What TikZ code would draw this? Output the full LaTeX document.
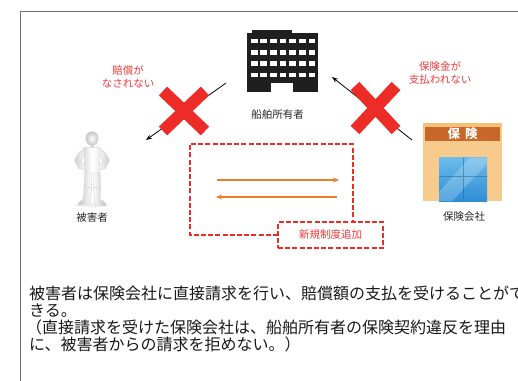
\documentclass[tikz,border=0pt]{standalone}
\usepackage{fontspec}
\setmainfont{Noto Sans CJK JP}
\usetikzlibrary{arrows.meta,shapes.geometric}
\definecolor{framegray}{HTML}{6E6E6E}
\definecolor{crossred}{HTML}{EE2C27}
\definecolor{notered}{HTML}{F03A3A}
\definecolor{flow}{HTML}{ED7D31}
\definecolor{signorange}{HTML}{C9662A}
\definecolor{walltan}{HTML}{F6CB8C}
\definecolor{glassblue}{HTML}{2D8ED6}
\definecolor{glasslight}{HTML}{7CC6F0}
\tikzset{
  xmark/.style={crossred, line width=12pt, line cap=butt},
  linkarrow/.style={black, line width=0.8pt, -{Stealth[length=6pt,width=4.5pt]}},
  flowarrow/.style={flow, line width=1.3pt, -{Stealth[length=6pt,width=5pt]}},
  redlabel/.style={text=notered, font=\fontsize{10.5}{12.5}\selectfont, align=center, inner sep=0pt},
  caption/.style={text=black!85, font=\fontsize{10.5}{12}\selectfont, inner sep=0pt},
  dashbox/.style={draw=crossred, line width=1.4pt, dash pattern=on 5pt off 2.2pt},
  bodytext/.style={text=black!90, font=\fontsize{16}{17}\selectfont, inner sep=0pt, anchor=base west},
}
\begin{document}
\begin{tikzpicture}[x=1pt, y=-1pt]
\useasboundingbox (0,0) rectangle (518,380);
\fill[white] (0,0) rectangle (518,380);

% outer frame (runs past the right and bottom edges)
\draw[framegray, line width=1pt] (530,11) -- (20,11) -- (20,392);

% ---------- ship owner: office building ----------
\fill[black!88] (252,30) rectangle (292,33);
\fill[black!88] (247,32.5) rectangle (318,92);
\fill[white] (271,83) rectangle (293,92.5);
\foreach \r in {0,...,3}
  \foreach \c in {0,...,6}
    \fill[white] (250.6+\c*9.65, 38.8+\r*11.3) rectangle ++(6.9,4.6);
\node[inner sep=0pt, minimum width=71pt, minimum height=62pt] (owner) at (282.5,61) {};
\node[caption] (ownerlbl) at (277.5,115) {船舶所有者};

% ---------- victim: standing figure ----------
\begin{scope}
  % ground shadow
  \fill[black!6] (92,205) ellipse (17pt and 2.5pt);
  % legs
  \shade[left color=black!22, right color=white, draw=black!22, line width=0.3pt]
    (85,172) -- (92,172) -- (91.5,188) -- (90.5,200) -- (89.5,204) -- (78.5,205) -- (79,202.5) -- (83.5,199) -- (84,188) -- cycle;
  \shade[left color=white, right color=black!25, draw=black!22, line width=0.3pt]
    (93,172) -- (100,172) -- (100.5,188) -- (100,199) -- (105,202.5) -- (105.5,205.5) -- (95.5,205) -- (94.5,200) -- (93.5,188) -- cycle;
  % knee joints
  \draw[black!20, line width=0.4pt] (84.1,187) -- (91.6,187.5) (93.6,187.5) -- (100.4,187);
  % arms on hips
  \shade[left color=black!18, right color=white, draw=black!22, line width=0.3pt]
    (85,149) -- (79.5,152) -- (74.5,160) -- (78.5,168) -- (85.5,170.5) -- (86.5,166.5) -- (81,162.5) -- (82.5,157) -- (86,155) -- cycle;
  \shade[left color=white, right color=black!20, draw=black!22, line width=0.3pt]
    (99,149) -- (104.5,152) -- (109.5,160) -- (105.5,168) -- (98.5,170.5) -- (97.5,166.5) -- (103,162.5) -- (101.5,157) -- (98,155) -- cycle;
  % torso
  \shade[left color=black!14, right color=black!8, middle color=white, draw=black!22, line width=0.3pt]
    (83.5,148) .. controls (88,146.5) and (96,146.5) .. (100.5,148) -- (99.5,160) -- (99,173) -- (85,173) -- (84.5,160) -- cycle;
  % neck and head
  \fill[black!16] (90.5,144) rectangle (93.5,148);
  \shade[inner color=white, outer color=black!22, draw=black!20, line width=0.3pt] (92,138.5) ellipse (6.2pt and 7pt);
  \node[inner sep=0pt, minimum width=34pt, minimum height=72pt] (victim) at (92,169) {};
\end{scope}
\node[caption] (victimlbl) at (92,217.5) {被害者};

% ---------- insurer: shop front ----------
\fill[walltan] (423,123) rectangle (502,200.5);
\fill[walltan!85!orange] (423,123) rectangle (502,127);
\fill[signorange] (425,127) rectangle (500,141);
\node[text=white, font=\fontsize{12.5}{13}\selectfont\bfseries, inner sep=0pt] (sign) at (462.5,134) {保\hspace{5pt}険};
\shade[top color=glasslight!80!glassblue, bottom color=glassblue] (439,157.5) rectangle (487,201);
\fill[white, opacity=0.22] (470,157.5) -- (487,157.5) -- (487,164) -- (452,201) -- (439,201) -- (439,192) -- cycle;
\draw[glassblue!70!black, line width=0.4pt, opacity=0.5] (439,176) -- (487,176) (463,157.5) -- (463,201);
\node[inner sep=0pt, minimum width=79pt, minimum height=78pt] (insurer) at (462.5,162) {};
\node[caption] (insurerlbl) at (464,217) {保険会社};

% ---------- broken links ----------
\coordinate (ownerSW) at (226,83);
\coordinate (victimNE) at (146,140);
\coordinate (insurerNW) at (412,140);
\coordinate (ownerSE) at (332,77);
\draw[linkarrow] (ownerSW) -- (victimNE);
\draw[linkarrow] (insurerNW) -- (ownerSE);

\node[redlabel] (nopay) at (128,77) {賠償が\\なされない};
\node[redlabel] (noclaim) at (440,73) {保険金が\\支払われない};

% crosses over the links
\draw[xmark] (163,91) -- (205,131) (163,131) -- (205,91);
\draw[xmark] (355,86) -- (396,130) (355,130) -- (396,86);

% ---------- new direct-claim scheme ----------
\draw[dashbox] (278,235) -- (190,235) -- (190,144) -- (353,144) -- (353,222);
\node[dashbox, fill=white, minimum width=105pt, minimum height=26pt, inner sep=0pt,
      text=notered, font=\fontsize{10.5}{12}\selectfont] (newrule) at (330.5,235) {新規制度追加};
\coordinate (claimL) at (217,180);
\coordinate (claimR) at (339,180);
\coordinate (payR) at (337,197);
\coordinate (payL) at (216,197);
\draw[flowarrow] (claimL) -- (claimR);
\draw[flowarrow] (payR) -- (payL);

% ---------- explanation (the first and third lines run past the frame) ----------
\node[bodytext] (t1) at (29,299.5) {被害者は保険会社に直接請求を行い、賠償額の支払を受けることがで};
\node[bodytext] (t2) at (29,316.5) {きる。};
\node[bodytext] (t3) at (26,333.5) {（直接請求を受けた保険会社は、船舶所有者の保険契約違反を理由};
\node[bodytext] (t4) at (29,350) {に、被害者からの請求を拒めない。）};
\end{tikzpicture}
\end{document}
